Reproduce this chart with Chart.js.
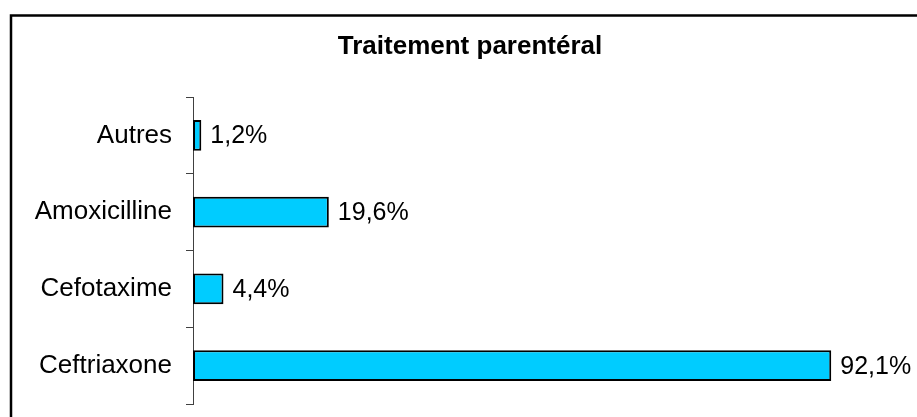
<!DOCTYPE html>
<html>
<head>
<meta charset="utf-8">
<script src="https://cdn.jsdelivr.net/npm/chart.js@4/dist/chart.umd.min.js"></script>
<style>
    body { margin: 0; background: #fff; }
    canvas { display: block; }
</style>
</head>
<body>
<canvas id="parentChart" width="917" height="417"></canvas>
<script>
const categories = ["Autres", "Amoxicilline", "Cefotaxime", "Ceftriaxone"];
const percentages = [1.2, 19.6, 4.4, 92.1];
const chartTitle = "Traitement parentéral";

const fontFamily = "'Liberation Sans', Arial, sans-serif";

// outer frame + title, centred on the frame (not on the canvas)
const framePlugin = {
    id: 'frame',
    beforeDraw: (chart) => {
        const ctx = chart.ctx;
        ctx.save();
        ctx.fillStyle = '#fff';
        ctx.fillRect(0, 0, chart.width, chart.height);
        ctx.strokeStyle = '#000';
        ctx.lineWidth = 2.5;
        ctx.strokeRect(11, 15.5, 1000, 1000);
        ctx.font = "bold 26px " + fontFamily;
        ctx.fillStyle = '#000';
        ctx.textAlign = 'center';
        ctx.textBaseline = 'middle';
        ctx.fillText(chartTitle, 470, 47);
        ctx.restore();
    }
};

// value labels at the end of each bar
const valueLabels = {
    id: 'valueLabels',
    afterDatasetsDraw: (chart) => {
        const ctx = chart.ctx;
        const meta = chart.getDatasetMeta(0);
        ctx.save();
        ctx.font = "25px " + fontFamily;
        ctx.fillStyle = '#000';
        ctx.textAlign = 'left';
        ctx.textBaseline = 'middle';
        meta.data.forEach((bar, i) => {
            let text = percentages[i].toFixed(1).replace('.', ',') + '%';
            ctx.fillText(text, bar.x + 9, bar.y + 1);
        });
        ctx.restore();
    }
};

const config = {
    type: 'bar',
    data: {
        labels: categories,
        datasets: [
            {
                data: percentages,
                backgroundColor: '#00CCFF',
                borderColor: '#000',
                borderWidth: 2,
                borderSkipped: false,
                barPercentage: 0.4,
                categoryPercentage: 1
            }
        ]
    },
    options: {
        indexAxis: 'y',
        responsive: false,
        animation: false,
        layout: {
            padding: { left: 0, right: 31, top: 97, bottom: 13 }
        },
        plugins: {
            legend: { display: false },
            tooltip: { enabled: false },
            title: { display: false }
        },
        scales: {
            x: {
                display: false,
                min: 0,
                max: 100
            },
            y: {
                afterFit: (scale) => {
                    scale.width = 193;
                    scale.paddingTop = 0;
                    scale.paddingBottom = 0;
                },
                border: { display: true, color: '#404040', width: 1 },
                grid: {
                    offset: true,
                    drawOnChartArea: false,
                    drawTicks: true,
                    tickLength: 7,
                    color: '#404040'
                },
                ticks: {
                    color: '#000',
                    padding: 14,
                    font: { family: fontFamily, size: 26 }
                }
            }
        }
    },
    plugins: [framePlugin, valueLabels]
};

new Chart(document.getElementById("parentChart"), config);
</script>
</body>
</html>
